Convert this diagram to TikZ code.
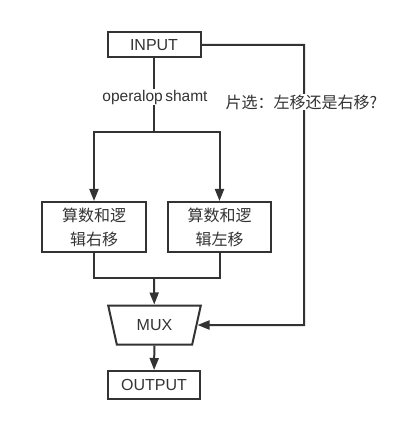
\documentclass[tikz,border=0pt]{standalone}
\usepackage{fontspec}
\setmainfont{Liberation Sans}
\newfontfamily\cjk{Noto Sans CJK SC}
\usetikzlibrary{arrows.meta,shapes.geometric}
\definecolor{ink}{HTML}{333333}
\begin{document}
\begin{tikzpicture}[x=1pt,y=-1pt,
  box/.style={draw=ink, line width=2pt, inner sep=0pt, text=ink, font=\fontsize{16}{18}\selectfont},
  cbox/.style={box, font=\cjk\fontsize{16}{24}\selectfont, align=center},
  wire/.style={draw=ink, line width=2pt},
  arr/.style={wire, -{Triangle[length=12pt,width=9pt]}},
  lbl/.style={fill=white, text=ink, inner sep=1pt}]
\useasboundingbox (0,0) rectangle (401,427);
\node[box, minimum width=93pt, minimum height=25pt] (in) at (154,45) {INPUT};
\node[box, minimum width=92pt, minimum height=28pt] (out) at (154,385) {OUTPUT};
\node[cbox, minimum width=104pt, minimum height=50pt] (L) at (94,227) {算数和逻\\辑右移};
\node[cbox, minimum width=103pt, minimum height=50pt] (R) at (219.5,227) {算数和逻\\辑左移};
\node[box, trapezium, trapezium left angle=70, trapezium right angle=70,
  shape border rotate=180, trapezium stretches=true,
  minimum width=93pt, minimum height=39pt] (mux) at (154.5,325) {MUX};
\coordinate (split) at (154,132);
\coordinate (join) at (154,278);
\coordinate (k1) at (304,45);
\coordinate (k2) at (304,325);
\draw[wire] (in) -- (split);
\node[lbl, font=\fontsize{15.5}{17}\selectfont] (op) at (155,97) {operalop\,shamt};
\draw[arr] (split) -| (L);
\draw[arr] (split) -| (R);
\draw[wire] (L) |- (join);
\draw[wire] (R) |- (join);
\draw[arr] (join) -- (mux);
\draw[arr] (mux) -- (out);
\draw[arr] (in) -- (k1) -- (k2) -- (mux);
\node[lbl, font=\cjk\fontsize{16}{20}\selectfont] (sel) at (301.5,102) {片选：左移还是右移?};
\end{tikzpicture}
\end{document}
